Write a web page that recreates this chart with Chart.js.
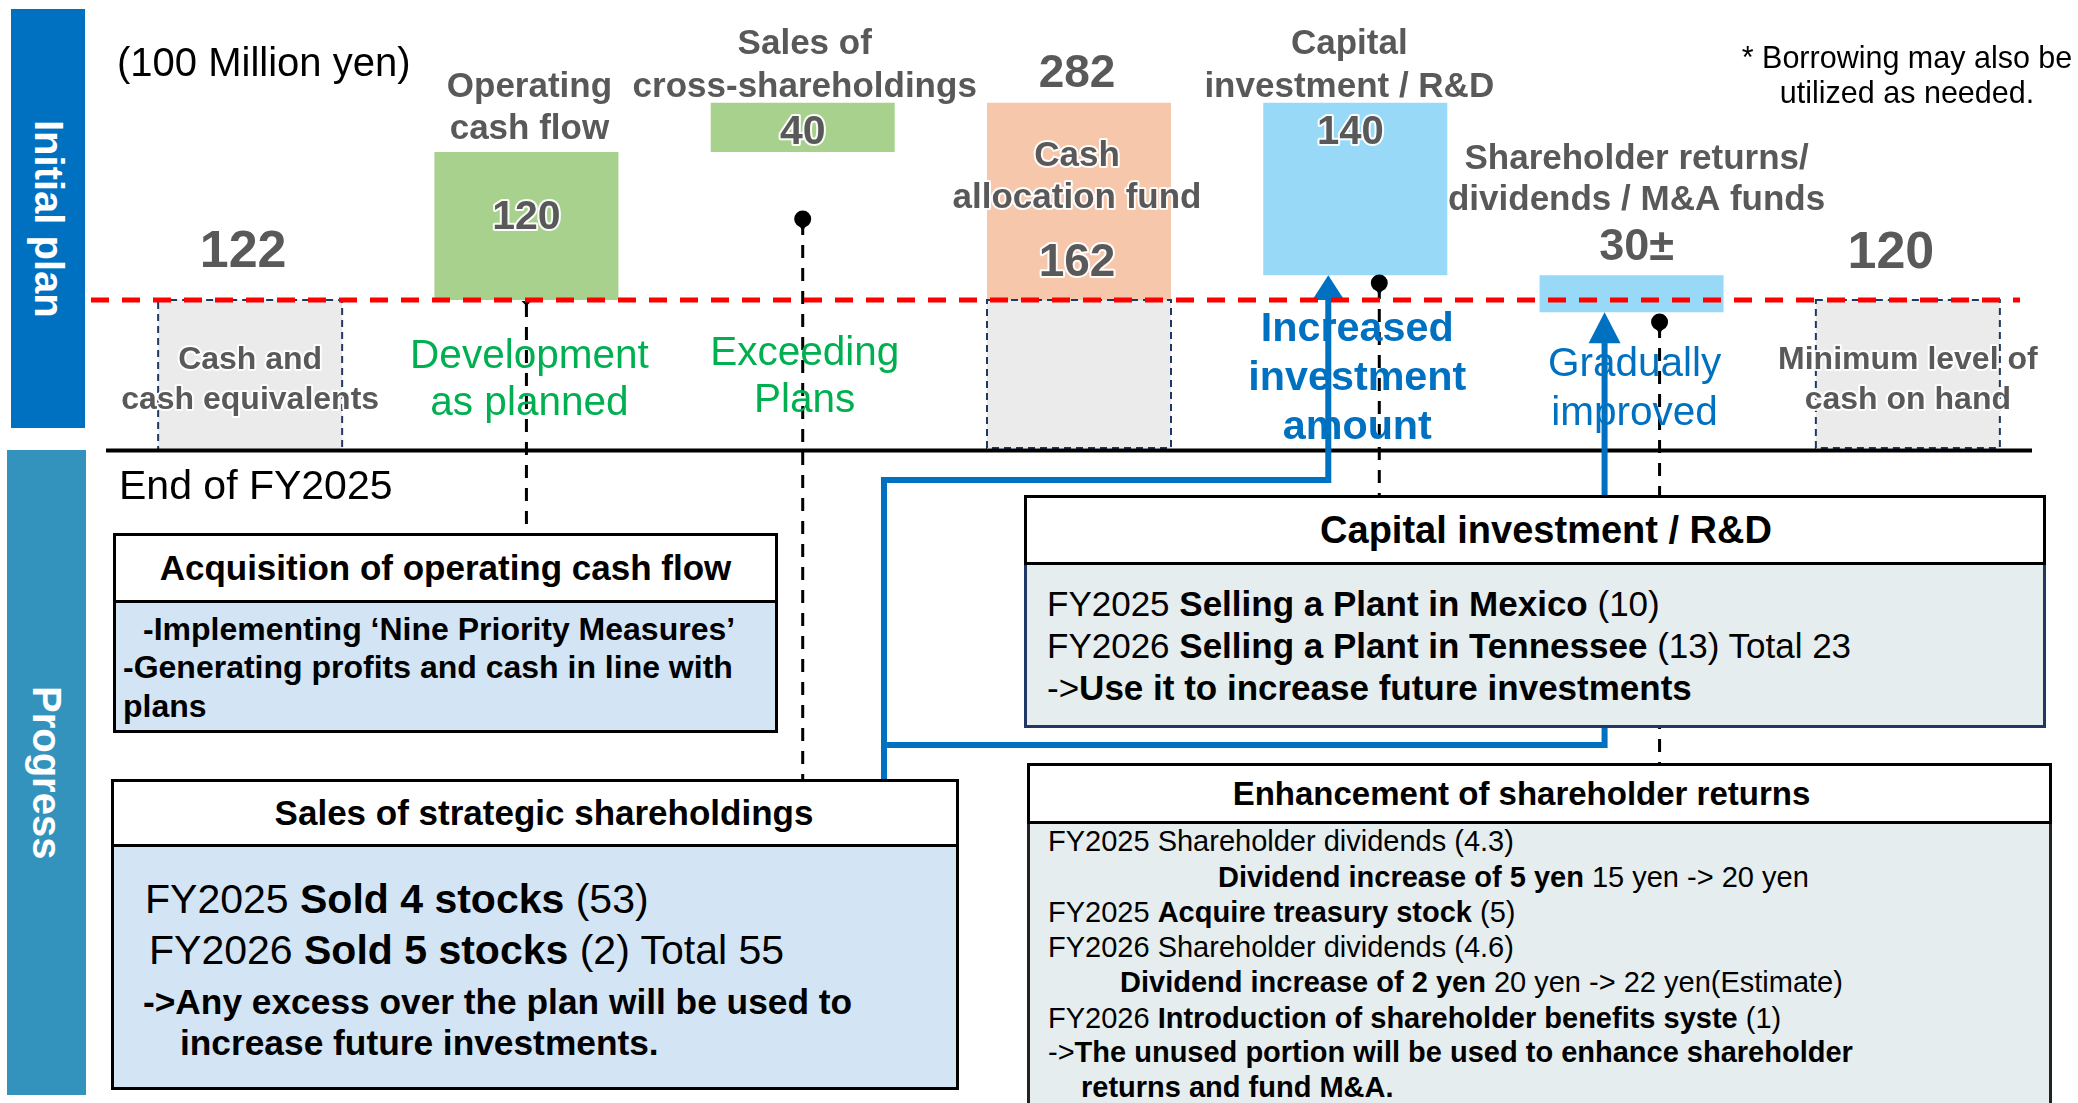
<!DOCTYPE html>
<html>
<head>
<meta charset="utf-8">
<script src="https://cdn.jsdelivr.net/npm/chart.js@4.4.1/dist/chart.umd.min.js"></script>
<style>
  body { margin: 0; width: 2078px; height: 1103px; overflow: hidden; background: #fff;
         font-family: "Liberation Sans", Arial, sans-serif; position: relative; }
  #c { position: absolute; left: 0; top: 0; }
  .side { position: absolute; color: #fff; font-weight: bold; font-size: 40px;
          writing-mode: vertical-rl; display: flex; align-items: center; justify-content: center; }
  .hd { position: absolute; background: #fff; border: 3px solid #000; box-sizing: border-box;
        display: flex; align-items: center; justify-content: center; font-weight: bold; color: #000; }
  .bd { position: absolute; box-sizing: border-box; border: 3px solid #000; border-top: none; }
  .t { position: absolute; white-space: nowrap; line-height: 1; color: #000; }
</style>
</head>
<body>
<canvas id="c" width="2078" height="1103"></canvas>

<div class="side" style="left:11px;top:9px;width:74px;height:419px;background:#0070C0;">Initial plan</div>
<div class="side" style="left:7px;top:450px;width:79px;height:645px;background:#3493BD;">Progress</div>

<div class="t" style="left:117px;top:42px;font-size:40px;">(100 Million yen)</div>
<div class="t" style="left:1740px;top:42px;width:334px;text-align:center;font-size:30.5px;">* Borrowing may also be</div>
<div class="t" style="left:1740px;top:77px;width:334px;text-align:center;font-size:30.5px;">utilized as needed.</div>
<div class="t" style="left:119px;top:465px;font-size:41px;">End of FY2025</div>

<!-- Acquisition of operating cash flow -->
<div class="hd" style="left:113px;top:533px;width:665px;height:70px;font-size:35px;">Acquisition of operating cash flow</div>
<div class="bd" style="left:113px;top:603px;width:665px;height:130px;background:#D3E5F5;"></div>
<div class="t" style="left:143px;top:613px;font-size:32px;font-weight:bold;">-Implementing ‘Nine Priority Measures’</div>
<div class="t" style="left:123px;top:651px;font-size:32px;font-weight:bold;">-Generating profits and cash in line with</div>
<div class="t" style="left:123px;top:690px;font-size:32px;font-weight:bold;">plans</div>

<!-- Sales of strategic shareholdings -->
<div class="hd" style="left:111px;top:779px;width:848px;height:68px;font-size:35px;padding-left:18px;">Sales of strategic shareholdings</div>
<div class="bd" style="left:111px;top:847px;width:848px;height:243px;background:#D3E5F5;"></div>
<div class="t" style="left:145px;top:879px;font-size:41px;">FY2025 <b>Sold 4 stocks</b> (53)</div>
<div class="t" style="left:149px;top:930px;font-size:41px;">FY2026 <b>Sold 5 stocks</b> (2) Total 55</div>
<div class="t" style="left:143px;top:984px;font-size:35.3px;font-weight:bold;">-&gt;Any excess over the plan will be used to</div>
<div class="t" style="left:180px;top:1025px;font-size:35.3px;font-weight:bold;">increase future investments.</div>

<!-- Capital investment / R&D -->
<div class="hd" style="left:1024px;top:495px;width:1022px;height:70px;font-size:38px;padding-left:22px;">Capital investment / R&amp;D</div>
<div class="bd" style="left:1024px;top:565px;width:1022px;height:163px;background:#E5EDEF;border-color:#203864;"></div>
<div class="t" style="left:1047px;top:586px;font-size:35px;">FY2025 <b>Selling a Plant in Mexico</b> (10)</div>
<div class="t" style="left:1047px;top:628px;font-size:35px;">FY2026 <b>Selling a Plant in Tennessee</b> (13) Total 23</div>
<div class="t" style="left:1047px;top:670px;font-size:35px;">-&gt;<b>Use it to increase future investments</b></div>

<!-- Enhancement of shareholder returns -->
<div class="hd" style="left:1027px;top:763px;width:1025px;height:61px;font-size:33px;padding-right:36px;">Enhancement of shareholder returns</div>
<div class="bd" style="left:1027px;top:824px;width:1025px;height:320px;background:#E5EDEF;border-color:#222;"></div>
<div class="t" style="left:1048px;top:827px;font-size:29px;">FY2025 Shareholder dividends (4.3)</div>
<div class="t" style="left:1218px;top:863px;font-size:29px;"><b>Dividend increase of 5 yen</b> 15 yen -&gt; 20 yen</div>
<div class="t" style="left:1048px;top:898px;font-size:29px;">FY2025 <b>Acquire treasury stock</b> (5)</div>
<div class="t" style="left:1048px;top:933px;font-size:29px;">FY2026 Shareholder dividends (4.6)</div>
<div class="t" style="left:1120px;top:968px;font-size:29px;"><b>Dividend increase of 2 yen</b> 20 yen -&gt; 22 yen(Estimate)</div>
<div class="t" style="left:1048px;top:1004px;font-size:29px;">FY2026 <b>Introduction of shareholder benefits syste</b> (1)</div>
<div class="t" style="left:1048px;top:1038px;font-size:29px;">-&gt;<b>The unused portion will be used to enhance shareholder</b></div>
<div class="t" style="left:1081px;top:1073px;font-size:29px;"><b>returns and fund M&amp;A.</b></div>

<script>
// Cash allocation plan (100 million yen)

const categories = ['Cash and cash equivalents', 'Operating cash flow', 'Sales of cross-shareholdings',
  'Cash allocation fund', 'Capital investment / R&D', 'Shareholder returns / dividends / M&A funds',
  'Minimum level of cash on hand'];

// floating bars above the plan line
const planLow  = [null, 0, 120, 0, 20, -10, null];
const planHigh = [null, 120, 160, 160, 160, 20, null];
const planColors = [null, '#A9D18E', '#A9D18E', '#F7C7AC', '#97D9F6', '#97D9F6', null];

// cash held below the plan line
const cashLow  = [-122, null, null, -120, null, null, -120];
const cashHigh = [0, null, null, 0, null, null, 0];

const valueLabels = ['122', '120', '40', '162', '140', '30±', '120'];
const titleLabels = [[], ['Operating', 'cash flow'], ['Sales of', 'cross-shareholdings'], ['282'],
  ['Capital', 'investment / R&D'], ['Shareholder returns/', 'dividends / M&A funds'], []];
const noteLabels = [['Cash and', 'cash equivalents'], ['Development', 'as planned'], ['Exceeding', 'Plans'],
  ['Cash', 'allocation fund'], ['Increased', 'investment', 'amount'], ['Gradually', 'improved'],
  ['Minimum level of', 'cash on hand']];

const GRAY = '#595959';
const GREEN_TXT = '#00B050';
const BLUE = '#0070C0';

function txt(ctx, s, x, y, size, color, bold, glow) {
  ctx.font = (bold ? 'bold ' : '') + size + 'px "Liberation Sans", Arial, sans-serif';
  ctx.textAlign = 'center';
  ctx.textBaseline = 'middle';
  if (glow) {
    ctx.lineJoin = 'round';
    ctx.lineWidth = 4;
    ctx.strokeStyle = 'rgba(255,255,255,0.95)';
    ctx.strokeText(s, x, y);
  }
  ctx.fillStyle = color;
  ctx.fillText(s, x, y);
}

function dot(ctx, x, y) {
  ctx.fillStyle = '#000';
  ctx.beginPath();
  ctx.arc(x, y, 8.5, 0, Math.PI * 2);
  ctx.fill();
  ctx.beginPath();
  ctx.moveTo(x - 4, y + 6); ctx.lineTo(x + 4, y + 6); ctx.lineTo(x, y + 12);
  ctx.fill();
}

function dashV(ctx, x, y1, y2) {
  ctx.save();
  ctx.strokeStyle = '#000';
  ctx.lineWidth = 3;
  ctx.setLineDash([13, 10]);
  ctx.beginPath(); ctx.moveTo(x, y1); ctx.lineTo(x, y2); ctx.stroke();
  ctx.restore();
}

function arrowUp(ctx, x, tip, base) {
  ctx.fillStyle = BLUE;
  ctx.beginPath();
  ctx.moveTo(x, tip); ctx.lineTo(x + 16, base); ctx.lineTo(x - 16, base);
  ctx.closePath(); ctx.fill();
}

const overlay = {
  id: 'overlay',
  afterDatasetsDraw(chart) {
    const ctx = chart.ctx;
    const ys = chart.scales.y;
    const plan = chart.getDatasetMeta(0).data;
    const cash = chart.getDatasetMeta(1).data;
    const zeroY = ys.getPixelForValue(0);
    const floorY = ys.getPixelForValue(Math.min(...cashLow.filter(v => v !== null)));
    const cx = i => (plan[i] && planLow[i] !== null ? plan[i].x : cash[i].x);

    ctx.save();

    // dashed outlines of the cash boxes
    ctx.setLineDash([7, 5]);
    ctx.strokeStyle = '#1F3864';
    ctx.lineWidth = 2;
    cash.forEach((b, i) => {
      if (cashLow[i] === null) return;
      const top = Math.min(b.y, b.base), bot = Math.max(b.y, b.base);
      ctx.strokeRect(b.x - b.width / 2, top, b.width, bot - top);
    });
    ctx.setLineDash([]);

    // base line
    ctx.strokeStyle = '#000';
    ctx.lineWidth = 4;
    ctx.beginPath(); ctx.moveTo(106, floorY); ctx.lineTo(2032, floorY); ctx.stroke();

    // blue connectors from the progress boxes
    const capX = cx(4) - 27, retX = cx(5) - 27;
    ctx.strokeStyle = BLUE;
    ctx.lineWidth = 6;
    ctx.lineJoin = 'miter';
    ctx.beginPath();
    ctx.moveTo(884, 782); ctx.lineTo(884, 480); ctx.lineTo(capX, 480); ctx.lineTo(capX, zeroY - 2);
    ctx.stroke();
    ctx.beginPath();
    ctx.moveTo(884, 745); ctx.lineTo(retX, 745); ctx.lineTo(retX, ys.getPixelForValue(planLow[5]) + 30);
    ctx.stroke();
    arrowUp(ctx, capX, ys.getPixelForValue(planLow[4]), zeroY);
    arrowUp(ctx, retX, ys.getPixelForValue(planLow[5]), ys.getPixelForValue(planLow[5]) + 31);

    // black dashed guides
    dashV(ctx, cx(1), zeroY + 4, 534);
    ctx.fillStyle = '#000';
    ctx.beginPath(); ctx.moveTo(cx(1) - 5, zeroY + 1); ctx.lineTo(cx(1) + 5, zeroY + 1); ctx.lineTo(cx(1), zeroY + 6); ctx.fill();
    dashV(ctx, cx(2), 222, 780);
    dot(ctx, cx(2), 219);
    dashV(ctx, cx(4) + 24, 286, 496);
    dot(ctx, cx(4) + 24, 283);
    dashV(ctx, cx(5) + 28, 325, 763);
    dot(ctx, cx(5) + 28, 322);

    // plan line
    ctx.strokeStyle = '#FF0000';
    ctx.lineWidth = 5;
    ctx.setLineDash([18, 13]);
    ctx.beginPath(); ctx.moveTo(91, zeroY); ctx.lineTo(2020, zeroY); ctx.stroke();
    ctx.setLineDash([]);

    // labels
    const top = i => ys.getPixelForValue(planHigh[i]);

    txt(ctx, valueLabels[0], cx(0) - 7, zeroY - 47, 52, GRAY, true, false);
    txt(ctx, noteLabels[0][0], cx(0), zeroY + 60, 32, GRAY, true, true);
    txt(ctx, noteLabels[0][1], cx(0), zeroY + 100, 32, GRAY, true, true);

    txt(ctx, titleLabels[1][0], cx(1) + 3, 87, 35, GRAY, true, false);
    txt(ctx, titleLabels[1][1], cx(1) + 3, 129, 35, GRAY, true, false);
    txt(ctx, valueLabels[1], cx(1), top(1) + 66, 41, GRAY, true, true);
    txt(ctx, noteLabels[1][0], cx(1) + 3, zeroY + 57, 40.5, GREEN_TXT, false, false);
    txt(ctx, noteLabels[1][1], cx(1) + 3, zeroY + 104, 40.5, GREEN_TXT, false, false);

    txt(ctx, titleLabels[2][0], cx(2) + 2, 44, 35, GRAY, true, false);
    txt(ctx, titleLabels[2][1], cx(2) + 2, 87, 35, GRAY, true, false);
    txt(ctx, valueLabels[2], cx(2), top(2) + 30, 41, GRAY, true, true);
    txt(ctx, noteLabels[2][0], cx(2) + 2, zeroY + 54, 40.5, GREEN_TXT, false, false);
    txt(ctx, noteLabels[2][1], cx(2) + 2, zeroY + 101, 40.5, GREEN_TXT, false, false);

    txt(ctx, titleLabels[3][0], cx(3) - 2, 74, 46, GRAY, true, false);
    txt(ctx, noteLabels[3][0], cx(3) - 2, 156, 35, GRAY, true, true);
    txt(ctx, noteLabels[3][1], cx(3) - 2, 198, 35, GRAY, true, true);
    txt(ctx, valueLabels[3], cx(3) - 2, 263, 46, GRAY, true, true);

    txt(ctx, titleLabels[4][0], cx(4) - 6, 44, 35, GRAY, true, false);
    txt(ctx, titleLabels[4][1], cx(4) - 6, 87, 35, GRAY, true, false);
    txt(ctx, valueLabels[4], cx(4) - 5, top(4) + 30, 40, GRAY, true, true);
    noteLabels[4].forEach((s, k) => txt(ctx, s, cx(4) + 2, 330 + k * 49, 41.3, BLUE, true, false));

    txt(ctx, titleLabels[5][0], cx(5) + 5, 159, 35, GRAY, true, false);
    txt(ctx, titleLabels[5][1], cx(5) + 5, 200, 35, GRAY, true, false);
    txt(ctx, valueLabels[5], cx(5) + 5, 248, 45, GRAY, true, false);
    txt(ctx, noteLabels[5][0], cx(5) + 3, 365, 40.5, BLUE, false, false);
    txt(ctx, noteLabels[5][1], cx(5) + 3, 414, 40.5, BLUE, false, false);

    txt(ctx, valueLabels[6], cx(6) - 17, zeroY - 46, 52, GRAY, true, false);
    txt(ctx, noteLabels[6][0], cx(6), zeroY + 60, 32, GRAY, true, true);
    txt(ctx, noteLabels[6][1], cx(6), zeroY + 100, 32, GRAY, true, true);

    ctx.restore();
  }
};

new Chart(document.getElementById('c'), {
  type: 'bar',
  data: {
    labels: categories,
    datasets: [{
      label: 'Plan',
      data: planLow.map((v, i) => v === null ? null : [v, planHigh[i]]),
      backgroundColor: planColors,
      borderWidth: 0,
      grouped: false,
      barPercentage: 0.666,
      categoryPercentage: 1
    }, {
      label: 'Cash',
      data: cashLow.map((v, i) => v === null ? null : [v, cashHigh[i]]),
      backgroundColor: '#EBEBEB',
      borderWidth: 0,
      grouped: false,
      barPercentage: 0.666,
      categoryPercentage: 1
    }]
  },
  options: {
    responsive: false,
    animation: false,
    devicePixelRatio: 1,
    layout: { padding: { left: 112, right: 32, top: 0, bottom: 0 } },
    plugins: { legend: { display: false }, tooltip: { enabled: false } },
    scales: {
      x: { display: false },
      y: { display: false, min: -651, max: 243.2 }
    }
  },
  plugins: [overlay]
});
</script>
</body>
</html>
